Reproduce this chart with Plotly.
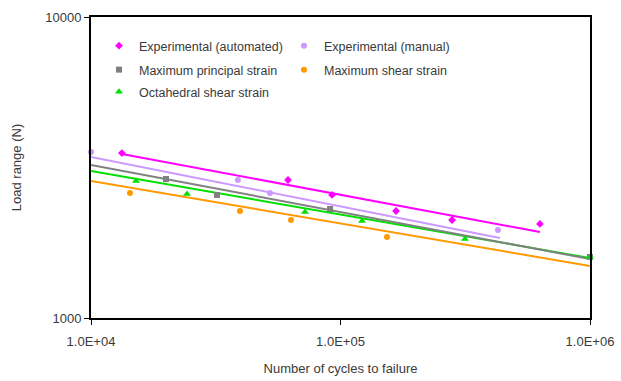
import plotly.graph_objects as go

# ---- data ----
auto_n = [13300, 61600, 92500, 166900, 280000, 630000]
auto_l = [3532, 2874, 2563, 2267, 2116, 2053]

manual_n = [10000, 38800, 52160, 427600]
manual_l = [3561, 2874, 2602, 1960]

mps_n = [19980, 31990, 90800, 1000000]
mps_l = [2896, 2563, 2302, 1595]

mss_n = [14330, 39540, 63330, 153600]
mss_l = [2602, 2267, 2116, 1858]

oct_n = [15150, 24250, 72060, 122000, 315500, 1000000]
oct_l = [2852, 2582, 2251, 2099, 1830, 1595]

# trend-line end points (cycles, load)
auto_fit_n = [13300, 630000]
auto_fit_l = [3507, 1931]
manual_fit_n = [10000, 435500]
manual_fit_l = [3427, 1844]
mps_fit_n = [10000, 1000000]
mps_fit_l = [3224, 1570]
oct_fit_n = [10000, 1000000]
oct_fit_l = [3079, 1582]
mss_fit_n = [10000, 1000000]
mss_fit_l = [2852, 1489]

x_ticks = [1e4, 1e5, 1e6]
x_ticktext = ["1.0E+04", "1.0E+05", "1.0E+06"]
y_ticks = [1000, 10000]
y_ticktext = ["1000", "10000"]

C_AUTO = "#FF00FF"
C_MAN = "#CC99FF"
C_MPS = "#808080"
C_MSS = "#FF9900"
C_OCT = "#00E000"

FONT = "Liberation Sans, Arial"
TXT = "#3a3a3a"

fig = go.Figure()

# trend lines
for xs, ys, c in [
    (mss_fit_n, mss_fit_l, C_MSS),
    (oct_fit_n, oct_fit_l, C_OCT),
    (mps_fit_n, mps_fit_l, C_MPS),
    (manual_fit_n, manual_fit_l, C_MAN),
    (auto_fit_n, auto_fit_l, C_AUTO),
]:
    fig.add_trace(go.Scatter(x=xs, y=ys, mode="lines", line=dict(color=c, width=2),
                             showlegend=False, hoverinfo="skip", cliponaxis=False))

# markers (legend rows)
series = [
    ("Experimental (automated)", auto_n, auto_l, C_AUTO, "diamond", 6, "legend"),
    ("Experimental (manual)", manual_n, manual_l, C_MAN, "circle", 6, "legend"),
    ("Maximum principal strain", mps_n, mps_l, C_MPS, "square", 6, "legend2"),
    ("Maximum shear strain", mss_n, mss_l, C_MSS, "circle", 6, "legend2"),
    ("Octahedral shear strain", oct_n, oct_l, C_OCT, "triangle-up", 7, "legend3"),
]
for name, xs, ys, c, sym, sz, lg in series:
    fig.add_trace(go.Scatter(x=xs, y=ys, mode="markers", name=name, legend=lg,
                             marker=dict(color=c, symbol=sym, size=sz, line=dict(width=0)),
                             cliponaxis=False))

axis_common = dict(
    showline=True, linecolor="black", linewidth=2, mirror=True,
    showgrid=False, zeroline=False, automargin=False,
    ticks="outside", ticklen=5, tickcolor="black", tickwidth=1,
    tickfont=dict(family=FONT, size=13, color=TXT),
    title_font=dict(family=FONT, size=13, color=TXT),
)

def leg(y, ew):
    return dict(orientation="h", x=0.016, y=y, xanchor="left", yanchor="middle",
                bgcolor="rgba(0,0,0,0)", entrywidth=ew, itemwidth=30,
                font=dict(family=FONT, size=12.5, color=TXT))

fig.update_layout(
    width=621, height=381,
    margin=dict(l=91, r=31, t=17, b=63),
    paper_bgcolor="white", plot_bgcolor="white",
    font=dict(family=FONT, size=12, color=TXT),
    xaxis=dict(type="log", range=[4, 6], tickvals=x_ticks, ticktext=x_ticktext,
               ticklabelstandoff=5,
               title=dict(text="Number of cycles to failure", standoff=16), **axis_common),
    yaxis=dict(type="log", range=[3, 4], tickvals=y_ticks, ticktext=y_ticktext,
               title=dict(text="Load range (N)", standoff=21), **axis_common),
    legend=leg(1 - (46 - 17) / 301, 140),
    legend2=leg(1 - (70 - 17) / 301, 140),
    legend3=leg(1 - (92 - 17) / 301, 0),
    showlegend=True,
)

fig.write_html("out.html")
